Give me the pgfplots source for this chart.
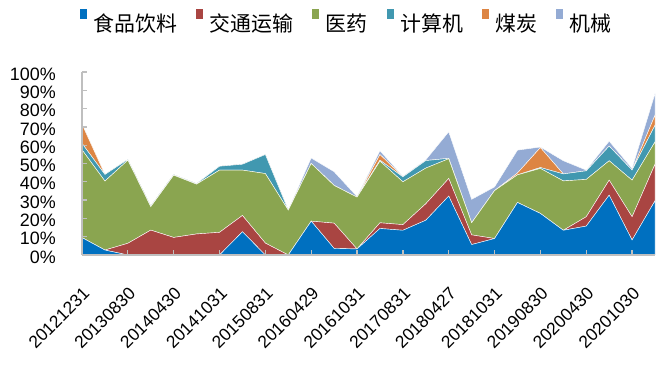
\documentclass[border=0pt]{standalone}
\usepackage{pgfplots}
\pgfplotsset{compat=1.18}
\usepackage{pgfplotstable}
\usepackage{fontspec}
\setmainfont{Liberation Sans}
\newfontfamily\cjk{Noto Sans CJK SC}
\definecolor{cBlue}{HTML}{0070C0}
\definecolor{cRed}{HTML}{A94542}
\definecolor{cGreen}{HTML}{8AA550}
\definecolor{cTeal}{HTML}{4198B0}
\definecolor{cOrange}{HTML}{DD8543}
\definecolor{cLight}{HTML}{94ABD4}
\pgfplotstableread{
x a b c d e f
0 9.5 0 48 3.5 10.5 0
1 2.7 0 37.7 3.6 0 0
2 0 6.4 45.4 0.4 0 0
3 0 13.6 12.8 0.4 0 0
4 0 9.6 34 0.4 0 0
5 0 11.5 27.2 0.3 0 0
6 0 12.4 34 2.1 0 0
7 12.7 8.9 24.8 3.2 0 0
8 0 6.5 38 10.4 0 0
9 0 0 24.5 0 0 0
10 18.5 0 31.5 0 0 3
11 3.6 13.8 20.6 0 0 7.5
12 3.3 0 28.3 0 0 0.3
13 14.5 3.1 33.7 0.5 3.1 2
14 13.5 3.1 23.4 2.7 0 0.3
15 19 9 19.5 4.1 0 0.4
16 32.2 9.6 10.8 0.2 0 14.5
17 5.7 5.3 6.6 0 0 12.8
18 9 0 26.2 0 0 2
19 28.7 0 15.1 0 1 12.5
20 22.7 0 24.6 0.5 10.9 0.3
21 13.5 0 27 3.8 0 7.2
22 15.8 5.1 20.4 4.7 0 0.4
23 32.7 8.2 10.6 8 0 2.7
24 8.2 12.7 20 5.5 0 0.9
25 29.6 20 12.2 9.1 5.5 11.8
}\data
\pgfplotsset{
  leg/.style={legend image code/.code={\fill[##1,draw=none] (0bp,4bp) rectangle (7bp,14bp);}},
  ar/.style={fill=#1, draw=white, line width=0.4bp, mark=none, leg},
}
\begin{document}
\begin{tikzpicture}
\useasboundingbox (0,0) rectangle (663bp,369bp);
\begin{axis}[
  at={(82bp,114bp)}, anchor=south west,
  scale only axis, width=573bp, height=183bp,
  xmin=0, xmax=25, ymin=0, ymax=100,
  stack plots=y,
  axis on top,
  axis x line*=bottom, axis y line*=left,
  axis line style={draw=black!25, line width=1.3bp},
  tick style={draw=black!25, line width=1.3bp},
  tick align=inside, major tick length=5bp,
  xtick={0,2,...,24},
  xticklabels={20121231,20130830,20140430,20141031,20150831,20160429,20161031,20170831,20180427,20181031,20190830,20200430,20201030},
  ytick={0,10,...,100},
  yticklabel={\pgfmathprintnumber{\tick}\%},
  /pgf/number format/assume math mode=true,
  y tick label style={font=\fontsize{18}{18}\selectfont, anchor=east, inner sep=0pt, xshift=-26bp, yshift=-2bp},
  x tick label style={font=\fontsize{17.5}{17.5}\selectfont, inner sep=0pt, yshift=-31bp, rotate=45, anchor=north east},
  legend columns=-1,
  legend style={at={(-0.0035,1.2787)}, anchor=west, draw=none, fill=none,
    inner sep=0pt, outer sep=0pt, nodes={inner sep=0pt},
    font=\cjk\fontsize{21}{21}\selectfont,
    /tikz/every odd column/.append style={column sep=6.5bp},
    /tikz/every even column/.append style={column sep=19bp}},
]
\addplot[ar=cBlue] table[x=x,y=a]{\data} \closedcycle;
\addplot[ar=cRed] table[x=x,y=b]{\data} \closedcycle;
\addplot[ar=cGreen] table[x=x,y=c]{\data} \closedcycle;
\addplot[ar=cTeal] table[x=x,y=d]{\data} \closedcycle;
\addplot[ar=cOrange] table[x=x,y=e]{\data} \closedcycle;
\addplot[ar=cLight] table[x=x,y=f]{\data} \closedcycle;
\legend{食品饮料,交通运输,医药,计算机,煤炭,机械}
\end{axis}
\end{tikzpicture}
\end{document}
